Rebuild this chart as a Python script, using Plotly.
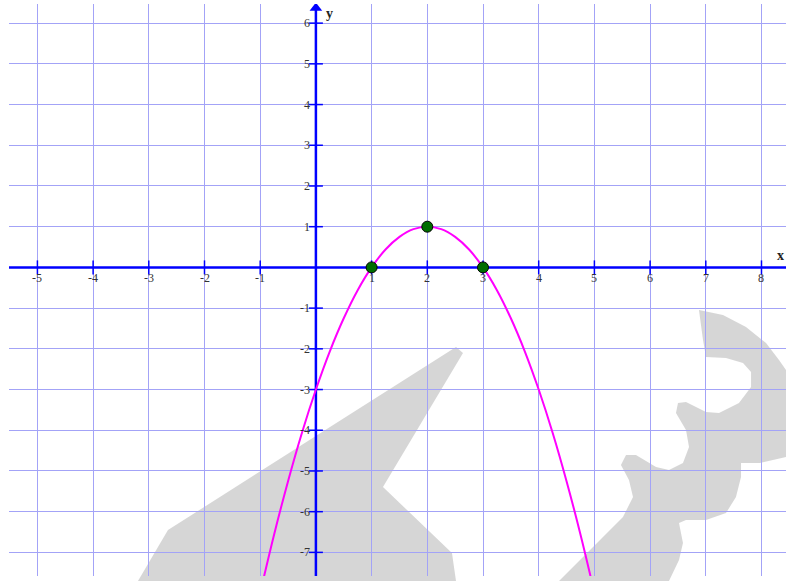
import plotly.graph_objects as go

# visible window of the graph paper
XMIN, XMAX = -5.51, 8.44
YMIN, YMAX = -7.58, 6.47

# ticks and labels
x_ticks = [-5, -4, -3, -2, -1, 1, 2, 3, 4, 5, 6, 7, 8]
y_ticks = [-7, -6, -5, -4, -3, -2, -1, 1, 2, 3, 4, 5, 6]

# parabola
curve_x = [-0.95, -0.75, -0.5, -0.25, 0, 0.25, 0.5, 0.75, 1, 1.25, 1.5, 1.75, 2,
           2.25, 2.5, 2.75, 3, 3.25, 3.5, 3.75, 4, 4.25, 4.5, 4.75, 4.95]
curve_y = [-7.70, -6.56, -5.25, -4.06, -3.0, -2.06, -1.25, -0.56, 0, 0.44, 0.75, 0.94, 1.0,
           0.94, 0.75, 0.44, 0, -0.56, -1.25, -2.06, -3.0, -4.06, -5.25, -6.56, -7.70]

# marked points (roots and vertex)
pts_x = [1, 2, 3]
pts_y = [0, 1, 0]

BLUE = "#0000ff"
FONT = "Liberation Serif"

fig = go.Figure()

# axes
fig.add_trace(go.Scatter(x=[XMIN, XMAX], y=[0, 0], mode="lines",
                         line=dict(color=BLUE, width=2.5), hoverinfo="skip"))
fig.add_trace(go.Scatter(x=[0, 0], y=[YMIN, YMAX - 0.12], mode="lines",
                         line=dict(color=BLUE, width=2.5), hoverinfo="skip"))
fig.add_trace(go.Scatter(x=[0], y=[YMAX - 0.1], mode="markers",
                         marker=dict(symbol="triangle-up", size=11, color=BLUE),
                         hoverinfo="skip"))

# tick marks on the axes
fig.add_trace(go.Scatter(x=x_ticks, y=[0] * len(x_ticks), mode="markers",
                         marker=dict(symbol="line-ns", size=10, line=dict(color=BLUE, width=1.5)),
                         hoverinfo="skip"))
fig.add_trace(go.Scatter(x=[0] * len(y_ticks), y=y_ticks, mode="markers",
                         marker=dict(symbol="line-ew", size=10, line=dict(color=BLUE, width=1.5)),
                         hoverinfo="skip"))

# the parabola
fig.add_trace(go.Scatter(x=curve_x, y=curve_y, mode="lines", line_shape="spline",
                         line=dict(color="#ff00ff", width=2)))

# the points
fig.add_trace(go.Scatter(x=pts_x, y=pts_y, mode="markers",
                         marker=dict(size=11, color="#006d00", line=dict(color="black", width=1))))

# tick labels
for v in x_ticks:
    fig.add_annotation(x=v, y=0, text=str(v), showarrow=False, yshift=-11,
                       font=dict(family=FONT, size=12, color="#333333"))
for v in y_ticks:
    fig.add_annotation(x=0, y=v, text=str(v), showarrow=False, xanchor="right", xshift=-4,
                       font=dict(family=FONT, size=12, color="#333333"))

fig.add_annotation(x=0.25, y=6.23, text="<b>y</b>", showarrow=False,
                   font=dict(family=FONT, size=14, color="#222222"))
fig.add_annotation(xref="paper", x=1.0, y=0.3, xanchor="right", text="<b>x</b>",
                   showarrow=False, font=dict(family=FONT, size=14, color="#222222"))


# grey watermark, traced in pixels of the 786x581 picture
def to_paper(pts):
    out = []
    for i, (xp, yp) in enumerate(pts):
        px_ = (xp - 9) / 777
        py_ = (576 - yp) / 572
        out.append(("M" if i == 0 else "L") + f"{px_:.4f},{py_:.4f}")
    return " ".join(out) + " Z"


wedge = [(138, 581), (168, 530), (456, 347), (463, 353), (383, 487),
         (452, 553), (456, 581)]
three = [(699, 310), (723, 315), (746, 327), (766, 343), (779, 360), (786, 370),
         (786, 457), (760, 463), (741, 463), (741, 477), (736, 497), (726, 513),
         (706, 520), (686, 520), (679, 523), (683, 543), (679, 560), (669, 581),
         (559, 581), (623, 517), (633, 497), (629, 480), (621, 465), (626, 455),
         (636, 455), (656, 467), (669, 470), (683, 463), (689, 447), (686, 430),
         (676, 413), (678, 403), (686, 402), (706, 412), (719, 413), (739, 403),
         (751, 387), (751, 372), (743, 363), (726, 358), (706, 357), (703, 340)]
for shp in (wedge, three):
    fig.add_shape(type="path", path=to_paper(shp), xref="paper", yref="paper",
                  fillcolor="rgba(120,120,120,0.30)", line=dict(width=0), layer="between")

grid = dict(showgrid=True, gridcolor="#a3a3f7", gridwidth=1, dtick=1, tick0=0,
            zeroline=False, showticklabels=False, ticks="", showline=False)
fig.update_xaxes(range=[XMIN, XMAX], **grid)
fig.update_yaxes(range=[YMIN, YMAX], **grid)

fig.update_layout(
    width=786, height=581,
    margin=dict(l=9, r=0, t=4, b=5),
    plot_bgcolor="white", paper_bgcolor="white",
    showlegend=False,
)

fig.write_html("out.html", config={"displayModeBar": False},
               post_script="document.body.style.margin='0';")
